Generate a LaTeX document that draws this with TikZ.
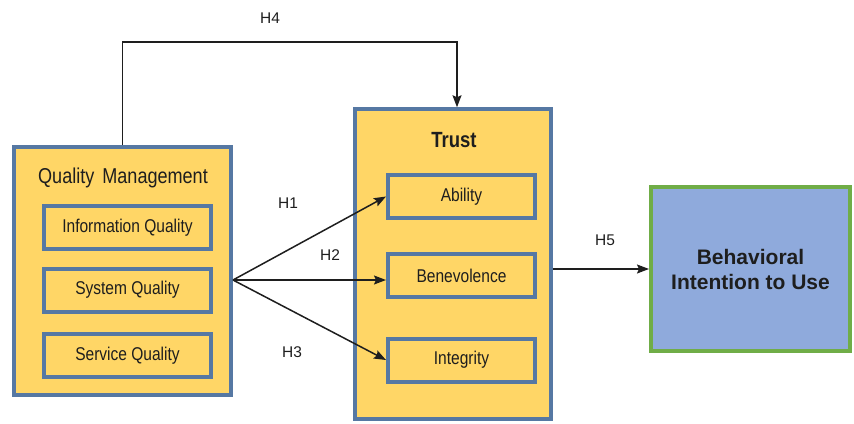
\documentclass[tikz,border=0pt]{standalone}
\usepackage{fontspec}
\usepackage{graphicx}
\setmainfont{Liberation Sans}
\usetikzlibrary{arrows.meta,calc}
\definecolor{boxyellow}{RGB}{255,214,102}
\definecolor{boxblue}{RGB}{86,120,163}
\definecolor{bifill}{RGB}{143,170,220}
\definecolor{bigreen}{RGB}{112,173,71}
\definecolor{txt}{RGB}{30,30,30}
\newcommand{\narrowtxt}[1]{\scalebox{0.84}[1]{#1}}
\begin{document}
\begin{tikzpicture}[x=1pt,y=-1pt,
  outerbox/.style={draw=boxblue,fill=boxyellow,line width=3.5pt,inner sep=0pt},
  innerbox/.style={draw=boxblue,fill=boxyellow,line width=4pt,inner sep=0pt,
     minimum height=43pt,text=txt,font=\fontsize{18.5}{21}\selectfont},
  hlabel/.style={text=txt,font=\fontsize{15.5}{18}\selectfont,inner sep=0pt},
  conn/.style={draw=txt,line width=1.5pt,-{Stealth[length=12pt,width=9pt,inset=2pt]}}]
\useasboundingbox[fill=white] (0,0) rectangle (854,423);
% Quality Management
\node[outerbox,minimum width=217pt,minimum height=248pt] (qm) at (122.5,271) {};
\node[text=txt,font=\fontsize{21.5}{24}\selectfont,inner sep=0pt] (qmt) at (123,178) {\narrowtxt{Quality\, Management}};
\node[innerbox,minimum width=167pt] (iq) at (127.5,227.5) {\narrowtxt{Information Quality}};
\node[innerbox,minimum width=167pt] (sq) at (127.5,290) {\narrowtxt{System Quality}};
\node[innerbox,minimum width=167pt] (svq) at (127.5,355.5) {\narrowtxt{Service Quality}};
% Trust
\node[outerbox,minimum width=196pt,minimum height=310pt] (tr) at (453,264) {};
\node[text=txt,font=\bfseries\fontsize{22}{24}\selectfont,inner sep=0pt] (trt) at (454,140) {\narrowtxt{Trust}};
\node[innerbox,minimum width=147pt] (ab) at (461.5,196.5) {\narrowtxt{Ability}};
\node[innerbox,minimum width=147pt] (be) at (461.5,275.5) {\narrowtxt{Benevolence}};
\node[innerbox,minimum width=147pt] (in) at (461.5,360) {\narrowtxt{Integrity}};
% Behavioral Intention
\node[draw=bigreen,fill=bifill,line width=4pt,minimum width=199pt,minimum height=164pt,
  align=center,text=txt,font=\bfseries\fontsize{21}{25}\selectfont] (bi) at (750.5,269)
  {Behavioral\\Intention to Use};
% connectors
\coordinate (o) at (233,280);
\draw[conn] (o) -- (ab.west);
\draw[conn] (o) -- (o -| be.west);
\draw[conn] (o) -- (in.west);
\draw[conn] (tr.east |- bi.west) -- (bi.west);
\coordinate (h4r) at (457,42);
\draw[conn] (qm.north) |- (h4r) -- (h4r |- tr.north);
% labels
\node[hlabel] (l4) at (270,18) {H4};
\node[hlabel] (l1) at (288,203) {H1};
\node[hlabel] (l2) at (330,255) {H2};
\node[hlabel] (l3) at (292,352) {H3};
\node[hlabel] (l5) at (605,240) {H5};
\end{tikzpicture}
\end{document}
